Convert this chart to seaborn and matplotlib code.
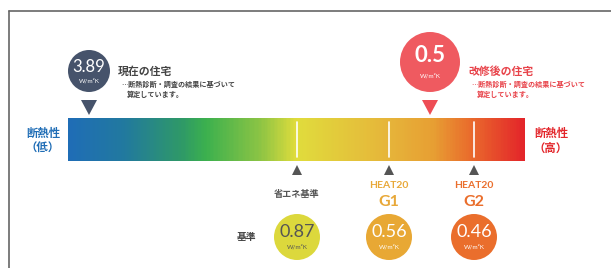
import numpy as np
import matplotlib
matplotlib.use("Agg")
import matplotlib.pyplot as plt
from matplotlib.colors import LinearSegmentedColormap
from matplotlib.patches import Circle, Polygon
import seaborn as sns

# データ
house_labels = ["現在の住宅", "改修後の住宅"]
house_values = ["3.89", "0.5"]
note_lines = ["…断熱診断・調査の結果に基づいて", "算定しています。"]
std_names = ["省エネ基準", "G1", "G2"]
std_prefix = ["", "HEAT20", "HEAT20"]
std_values = ["0.87", "0.56", "0.46"]
unit = "W/m²K"

# レイアウト（ピクセル）
W, H = 611, 268
bar_x0, bar_x1, bar_y0, bar_y1 = 68, 525, 118, 161
house_x = [89, 430]
house_y = [71, 62]
house_r = [21, 30]
house_col = ["#46536b", "#ef5a60"]
tri_col = ["#46536b", "#ee4d55"]
std_x = [297, 389, 474]
std_col = ["#dcd83c", "#e8a834", "#ea6e2c"]
std_txt = ["#555555", "white", "white"]
head_col = ["#555555", "#e8a838", "#ea6e2c"]

JP = ["Noto Sans CJK JP", "DejaVu Sans"]
LAT = ["Lato", "Noto Sans CJK JP", "DejaVu Sans"]

sns.set_theme(style="white")
plt.rcParams["font.family"] = JP

fig = plt.figure(figsize=(W / 100, H / 100), dpi=100)

# グラデーションバー
stops = [(0.0, "#1f6db6"), (0.12, "#21799f"), (0.25, "#2f9a66"), (0.30, "#3bb04e"),
         (0.42, "#8cc444"), (0.50, "#e0dc3c"), (0.70, "#e6b53a"), (0.80, "#e79f33"),
         (0.88, "#e96d2c"), (1.0, "#e3252a")]
cmap = LinearSegmentedColormap.from_list("heat", stops)
grad = np.linspace(0, 1, 400)[None, :]
bar_ax = fig.add_axes([bar_x0 / W, 1 - bar_y1 / H, (bar_x1 - bar_x0) / W, (bar_y1 - bar_y0) / H])
sns.heatmap(grad, cmap=cmap, cbar=False, ax=bar_ax, xticklabels=False, yticklabels=False)
bar_ax.set_axis_off()

ax = fig.add_axes([0, 0, 1, 1])
ax.set_xlim(0, W)
ax.set_ylim(H, 0)
ax.patch.set_alpha(0)
ax.axis("off")

# 枠線
ax.plot([9, W], [11, 11], color="#666666", lw=1.2)
ax.plot([9, 9], [11, H], color="#666666", lw=1.2)

# バー内の白線
for x in std_x:
    ax.plot([x, x], [122, 157], color="white", lw=1.2)

# 両端ラベル
ax.text(43, 133, "断熱性", color="#1f6db6", fontsize=8.2, weight="bold", ha="center", va="center")
ax.text(43, 148, "（低）", color="#1f6db6", fontsize=8.2, weight="bold", ha="center", va="center")
ax.text(551, 133, "断熱性", color="#e3252a", fontsize=8.2, weight="bold", ha="center", va="center")
ax.text(551, 148, "（高）", color="#e3252a", fontsize=8.2, weight="bold", ha="center", va="center")

# 住宅マーカー
num_size = [12, 16]
num_weight = ["normal", "bold"]
for i in range(2):
    cx, cy, r = house_x[i], house_y[i], house_r[i]
    ax.add_patch(Circle((cx, cy), r, color=house_col[i], lw=0))
    ax.text(cx, cy - r * 0.2, house_values[i], color="white", fontsize=num_size[i],
            weight=num_weight[i], ha="center", va="center", family=LAT)
    ax.text(cx, cy + r * 0.45, unit, color="white", fontsize=4.5, ha="center", va="center", family=LAT)
    ax.add_patch(Polygon([(cx - 8, 100), (cx + 8, 100), (cx, 115)], color=tri_col[i], lw=0))
    tx = [118, 468][i]
    tc = ["#444444", "#e8434a"][i]
    ax.text(tx, 72, house_labels[i], color=tc, fontsize=7.8, weight="bold", ha="left", va="center")
    ax.text(tx + 3, 84, note_lines[0], color=tc, fontsize=5.1, weight="bold", ha="left", va="center")
    ax.text(tx + 9, 94, note_lines[1], color=tc, fontsize=5.1, weight="bold", ha="left", va="center")

# 基準マーカー
ax.text(247, 237, "基準", color="#444444", fontsize=7, weight="bold", ha="center", va="center")
for i, x in enumerate(std_x):
    ax.add_patch(Polygon([(x - 5, 175), (x + 5, 175), (x, 165)], color="#555555", lw=0))
    if std_prefix[i]:
        ax.text(x, 185, std_prefix[i], color=head_col[i], fontsize=7.5, weight="bold",
                ha="center", va="center", family=LAT)
        ax.text(x, 202, std_names[i], color=head_col[i], fontsize=11.5, weight="bold",
                ha="center", va="center", family=LAT)
    else:
        ax.text(x, 195, std_names[i], color=head_col[i], fontsize=6.6, weight="bold",
                ha="center", va="center")
    ax.add_patch(Circle((x, 237), 23, color=std_col[i], lw=0))
    ax.text(x, 232, std_values[i], color=std_txt[i], fontsize=13, ha="center", va="center", family=LAT)
    ax.text(x, 247, unit, color=std_txt[i], fontsize=4.5, ha="center", va="center", family=LAT)

fig.savefig("out.png", dpi=100)
